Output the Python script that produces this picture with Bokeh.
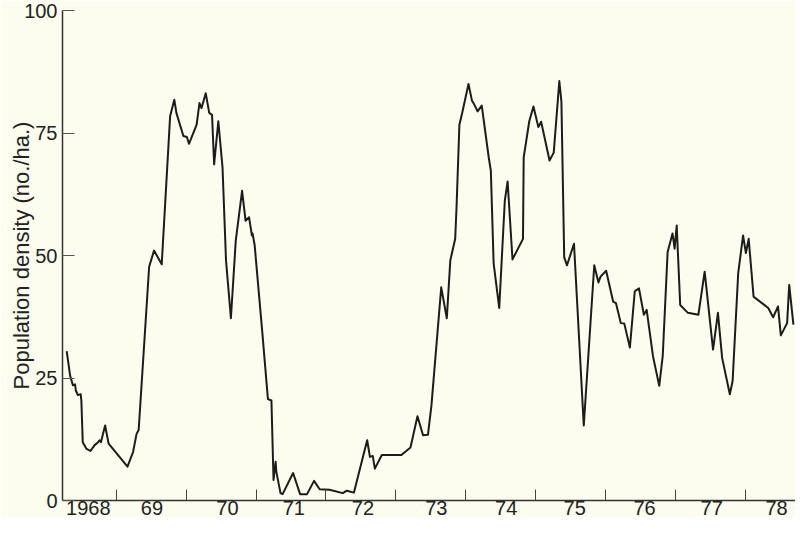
from bokeh.plotting import figure
from bokeh.models import FixedTicker, Range1d
from bokeh.embed import file_html
from bokeh.resources import INLINE

# Sampled population density (no./ha.) against decimal year
years = [1968.29, 1968.34, 1968.38, 1968.41, 1968.42, 1968.45, 1968.49, 1968.50,
         1968.52, 1968.57, 1968.63, 1968.69, 1968.74, 1968.76, 1968.78, 1968.84,
         1968.89, 1969.16, 1969.24, 1969.29, 1969.32, 1969.47, 1969.54, 1969.65,
         1969.77, 1969.83, 1969.86, 1969.96, 1970.01, 1970.04, 1970.15, 1970.19,
         1970.22, 1970.28, 1970.33, 1970.37, 1970.40, 1970.46, 1970.52, 1970.57,
         1970.64, 1970.71, 1970.80, 1970.85, 1970.90, 1970.94, 1970.95, 1970.98,
         1971.09, 1971.17, 1971.22, 1971.25, 1971.28, 1971.29, 1971.35, 1971.38,
         1971.53, 1971.63, 1971.73, 1971.83, 1971.91, 1972.05, 1972.24, 1972.30,
         1972.40, 1972.59, 1972.63, 1972.67, 1972.70, 1972.80, 1973.08, 1973.21,
         1973.31, 1973.39, 1973.46, 1973.51, 1973.65, 1973.73, 1973.78, 1973.85,
         1973.87, 1973.91, 1973.95, 1974.04, 1974.09, 1974.12, 1974.17, 1974.23,
         1974.33, 1974.36, 1974.40, 1974.48, 1974.56, 1974.60, 1974.67, 1974.82,
         1974.83, 1974.91, 1974.97, 1975.04, 1975.08, 1975.20, 1975.26, 1975.34,
         1975.37, 1975.41, 1975.45, 1975.55, 1975.69, 1975.84, 1975.90, 1975.93,
         1976.01, 1976.11, 1976.15, 1976.22, 1976.27, 1976.35, 1976.42, 1976.48,
         1976.55, 1976.59, 1976.68, 1976.77, 1976.82, 1976.89, 1976.96, 1976.99,
         1977.02, 1977.07, 1977.18, 1977.33, 1977.42, 1977.54, 1977.61, 1977.67,
         1977.78, 1977.82, 1977.90, 1977.97, 1978.01, 1978.05, 1978.12, 1978.33,
         1978.40, 1978.47, 1978.51, 1978.60, 1978.63, 1978.69]

density = [30.5, 25.4, 23.5, 23.7, 22.5, 21.5, 21.7, 20.4,
           11.9, 10.6, 10.1, 11.3, 11.9, 12.3, 11.9, 15.3,
           11.6, 6.9, 9.9, 13.6, 14.4, 47.7, 51.0, 48.2,
           78.4, 81.8, 79.1, 74.4, 74.2, 72.8, 76.7, 81.1,
           80.1, 83.1, 79.1, 78.7, 68.6, 77.4, 68.0, 49.0,
           37.2, 53.1, 63.2, 57.1, 57.8, 54.1, 54.5, 52.1,
           34.2, 20.7, 20.4, 4.2, 7.9, 5.9, 1.5, 1.3,
           5.6, 1.3, 1.3, 4.0, 2.3, 2.2, 1.5, 2.0,
           1.6, 12.3, 8.9, 9.1, 6.5, 9.3, 9.3, 10.8,
           17.2, 13.3, 13.4, 19.4, 43.5, 37.2, 49.0, 53.4,
           60.2, 76.7, 79.1, 85.0, 81.6, 80.9, 79.4, 80.6,
           70.0, 67.3, 48.4, 39.3, 61.2, 65.1, 49.2, 53.4,
           70.0, 77.4, 80.4, 76.2, 77.3, 69.4, 71.0, 85.6,
           81.4, 49.6, 48.0, 52.4, 15.3, 48.0, 44.5, 45.7,
           46.9, 40.6, 40.3, 36.2, 36.1, 31.2, 42.7, 43.3,
           37.9, 38.9, 29.5, 23.4, 29.5, 50.7, 54.5, 51.4,
           56.1, 39.9, 38.3, 37.9, 46.7, 30.8, 38.3, 29.1,
           21.7, 24.4, 46.4, 54.1, 50.5, 53.4, 41.6, 39.3,
           37.4, 39.6, 33.7, 36.2, 44.0, 35.9]

# X axis: year labels sit inside each year, tick marks at year boundaries
label_pos = [1968.60, 1969.51, 1970.59, 1971.54, 1972.53, 1973.58,
             1974.58, 1975.56, 1976.56, 1977.52, 1978.45]
label_text = ["1968", "69", "70", "71", "72", "73", "74", "75", "76", "77", "78"]
year_marks = [1969, 1970, 1971, 1972, 1973, 1974, 1975, 1976, 1977, 1978]
y_ticks = [0, 25, 50, 75, 100]

BG = "#fcfdee"
INK = "#1c1c1c"
FONT = "Liberation Sans"

p = figure(width=795, height=517, output_backend="svg", toolbar_location=None,
           x_range=Range1d(1968.23, 1978.72), y_range=Range1d(0, 100),
           min_border_left=62, min_border_right=0, min_border_top=10,
           min_border_bottom=0,
           background_fill_color=BG, border_fill_color=BG)
p.outline_line_color = None
p.grid.visible = False

p.line(years, density, line_color=INK, line_width=2, line_join="round")

xa = p.xaxis[0]
xa.ticker = FixedTicker(ticks=label_pos, minor_ticks=year_marks)
xa.major_label_overrides = {pos: txt for pos, txt in zip(label_pos, label_text)}
xa.major_tick_in = 0
xa.major_tick_out = 0
xa.minor_tick_in = 11
xa.minor_tick_out = 0
xa.minor_tick_line_color = "#444444"
xa.minor_tick_line_width = 1
xa.axis_line_color = "#333333"
xa.axis_line_width = 1.5
xa.major_label_standoff = 0
xa.major_label_text_font = FONT
xa.major_label_text_font_size = "20px"
xa.major_label_text_color = "#222222"

ya = p.yaxis[0]
ya.ticker = FixedTicker(ticks=y_ticks)
ya.major_tick_in = 12
ya.major_tick_out = 0
ya.major_tick_line_color = "#555555"
ya.major_tick_line_width = 1
ya.minor_tick_line_color = None
ya.axis_line_color = "#333333"
ya.axis_line_width = 1.5
ya.major_label_standoff = 5
ya.major_label_text_font = FONT
ya.major_label_text_font_size = "20px"
ya.major_label_text_color = "#222222"
ya.axis_label = "Population density (no./ha.)"
ya.axis_label_text_font = FONT
ya.axis_label_text_font_style = "normal"
ya.axis_label_text_font_size = "22px"
ya.axis_label_text_color = "#222222"
ya.axis_label_standoff = -13

open("out.html", "w").write(file_html(p, INLINE))
